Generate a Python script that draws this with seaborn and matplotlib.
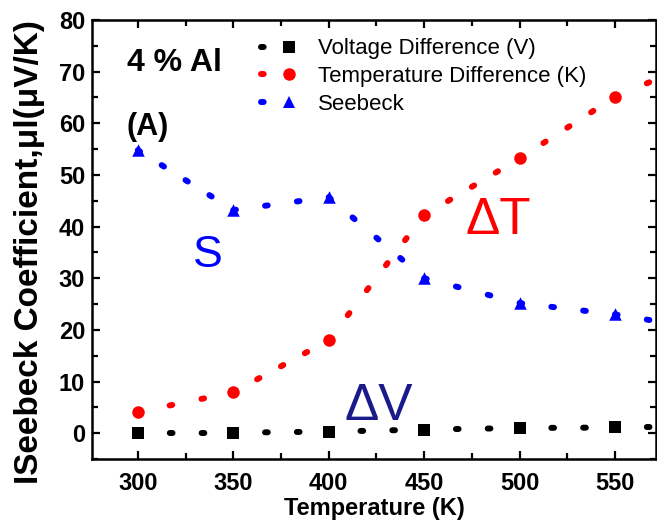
import numpy as np
import pandas as pd
import matplotlib
matplotlib.use("Agg")
import matplotlib.pyplot as plt
import seaborn as sns
from matplotlib.ticker import MultipleLocator
from matplotlib.lines import Line2D

temperature = [300, 350, 400, 450, 500, 550, 600]
voltage_diff = [0.1, 0.1, 0.3, 0.7, 1.0, 1.1, 1.1]
temp_diff = [4.1, 7.9, 18, 42.2, 53.2, 65.1, 73]
seebeck = [54.8, 43.2, 45.7, 30, 25.2, 23, 20]

series_names = ["Voltage Difference (V)", "Temperature Difference (K)", "Seebeck"]
series_values = [voltage_diff, temp_diff, seebeck]
series_colors = ["black", "#ff0000", "#0000ff"]
series_markers = ["s", "o", "^"]
marker_sizes = [8, 9, 9]

sns.set_style("ticks")
plt.rcParams["font.family"] = ["Liberation Sans", "DejaVu Sans"]
for k in ["text.color", "axes.labelcolor", "xtick.color", "ytick.color", "axes.edgecolor"]:
    plt.rcParams[k] = "black"

DPI = 100
fig = plt.figure(figsize=(6.57, 5.26), dpi=DPI)
ax = fig.add_axes([92 / 657, 1 - 459 / 526, 564 / 657, 439 / 526])
ax.set_xlim(276, 571.5)
ax.set_ylim(-5, 80)

LW = 4.3          # line width in points
DOT = 0.45        # dot "on" length in units of LW
PERIOD_PX = 31.0  # target spacing of dots in pixels

for name, vals, col, mk, ms in zip(series_names, series_values, series_colors,
                                   series_markers, marker_sizes):
    df = pd.DataFrame({"T": temperature, "v": vals})
    pts = ax.transData.transform(np.column_stack([df["T"], df["v"]]))
    for i in range(len(df) - 1):
        seg = df.iloc[i:i + 2]
        L = float(np.hypot(*(pts[i + 1] - pts[i])))
        n = max(1, int(round(L / PERIOD_PX)))
        period_pt = (L / n) * 72.0 / DPI
        gap = period_pt / LW - DOT
        sns.lineplot(data=seg, x="T", y="v", ax=ax, color=col, linewidth=LW,
                     linestyle=(0, (DOT, gap)), dash_capstyle="round",
                     legend=False, sort=False)
    sns.scatterplot(data=df, x="T", y="v", ax=ax, color=col, marker=mk,
                    s=ms ** 2, linewidth=0, legend=False, zorder=3)

ax.xaxis.set_major_locator(MultipleLocator(50))
ax.xaxis.set_minor_locator(MultipleLocator(25))
ax.yaxis.set_major_locator(MultipleLocator(10))
ax.yaxis.set_minor_locator(MultipleLocator(5))
ax.tick_params(which="both", direction="in", top=True, right=True, width=1.6,
               labelsize=17)
ax.tick_params(which="major", length=6)
ax.tick_params(which="minor", length=4)
ax.tick_params(axis="x", which="major", pad=9)
ax.tick_params(axis="y", which="major", pad=5)
for lab in ax.get_xticklabels() + ax.get_yticklabels():
    lab.set_fontweight("bold")
for sp in ax.spines.values():
    sp.set_linewidth(1.8)
    sp.set_visible(True)

ax.set_xlabel("Temperature (K)", fontsize=17, fontweight="bold", labelpad=2)
ax.set_ylabel("ISeebeck Coefficient,μl(μV/K)", fontsize=24, fontweight="bold")
ax.yaxis.set_label_coords(-0.084, 0.4715)

handles = [Line2D([], [], color=c, marker=m, markersize=ms, markeredgewidth=0,
                  linewidth=LW, linestyle=(0, (DOT, 200)), dash_capstyle="round")
           for c, m, ms in zip(series_colors, series_markers, marker_sizes)]
leg = ax.legend(handles, series_names, loc="upper left",
                bbox_to_anchor=(0.300, 0.958), frameon=False,
                fontsize=16, handlelength=2.5, handletextpad=0.05,
                labelspacing=0.3, borderaxespad=0, borderpad=0, numpoints=1)

ax.text(294.5, 70.1, "4 % Al", fontsize=23, fontweight="bold", ha="left", va="baseline")
ax.text(294, 57.7, "(A)", fontsize=22, fontweight="bold", ha="left", va="baseline")
ax.text(336.7, 32.2, "S", fontsize=32, color="#0000ff", ha="center", va="baseline")
ax.text(488.7, 38.5, "ΔT", fontsize=37, color="#ff0000", ha="center", va="baseline")
ax.text(426.5, 2.5, "ΔV", fontsize=37, color="#1a1a8a", ha="center", va="baseline")

fig.savefig("out.png", dpi=DPI)
